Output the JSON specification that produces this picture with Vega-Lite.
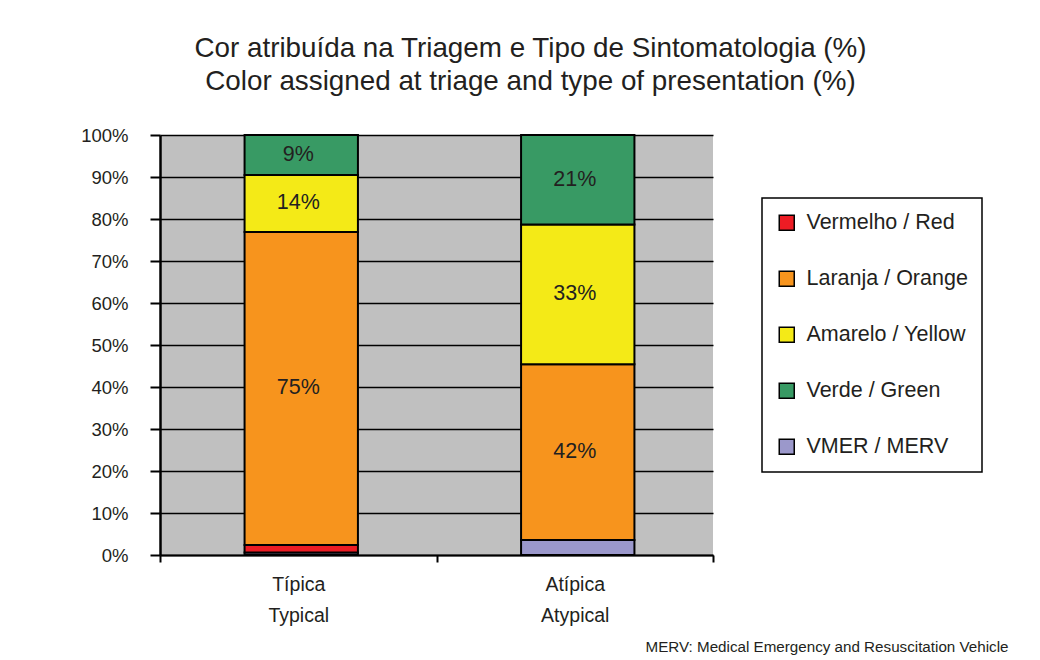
{
  "$schema": "https://vega.github.io/schema/vega-lite/v6.json",
  "width": 553,
  "height": 420,
  "autosize": {"type": "none"},
  "padding": {"left": 160, "top": 135, "right": 327, "bottom": 105},
  "background": "white",
  "config": {
    "font": "Liberation Sans",
    "view": {"fill": "#C0C0C0", "stroke": null}
  },
  "title": {
    "text": ["Cor atribuída na Triagem e Tipo de Sintomatologia (%)", "Color assigned at triage and type of presentation (%)"],
    "fontSize": 27.8,
    "fontWeight": "normal",
    "color": "#231F20",
    "lineHeight": 33,
    "anchor": "middle",
    "dx": 94,
    "offset": 30
  },
  "data": {
    "values": [
      {"cat": "Típica|Typical", "s": "VMER / MERV", "k": 1, "v": 0.6, "label": ""},
      {"cat": "Típica|Typical", "s": "Vermelho / Red", "k": 2, "v": 1.8, "label": ""},
      {"cat": "Típica|Typical", "s": "Laranja / Orange", "k": 3, "v": 74.5, "label": "75%"},
      {"cat": "Típica|Typical", "s": "Amarelo / Yellow", "k": 4, "v": 13.6, "label": "14%"},
      {"cat": "Típica|Typical", "s": "Verde / Green", "k": 5, "v": 9.5, "label": "9%"},
      {"cat": "Atípica|Atypical", "s": "VMER / MERV", "k": 1, "v": 3.6, "label": ""},
      {"cat": "Atípica|Atypical", "s": "Vermelho / Red", "k": 2, "v": 0, "label": ""},
      {"cat": "Atípica|Atypical", "s": "Laranja / Orange", "k": 3, "v": 41.8, "label": "42%"},
      {"cat": "Atípica|Atypical", "s": "Amarelo / Yellow", "k": 4, "v": 33.3, "label": "33%"},
      {"cat": "Atípica|Atypical", "s": "Verde / Green", "k": 5, "v": 21.3, "label": "21%"}
    ]
  },
  "transform": [
    {"stack": "v", "groupby": ["cat"], "sort": [{"field": "k", "order": "ascending"}], "as": ["y0", "y1"]},
    {"calculate": "(datum.y0 + datum.y1) / 2", "as": "mid"}
  ],
  "encoding": {
    "x": {
      "field": "cat",
      "type": "nominal",
      "sort": ["Típica|Typical", "Atípica|Atypical"],
      "scale": {"paddingInner": 0, "paddingOuter": 0},
      "axis": {
        "title": "MERV: Medical Emergency and Resuscitation Vehicle",
        "titleFontSize": 15.2,
        "titleFontWeight": "normal",
        "titleColor": "#231F20",
        "titleAlign": "right",
        "titleX": 848,
        "titleY": 91,
        "titleBaseline": "middle",
        "labelExpr": "split(datum.label, '|')",
        "labelAngle": 0,
        "labelFontSize": 19.5,
        "labelColor": "#231F20",
        "labelLineHeight": 31,
        "labelPadding": 13,
        "labelBaseline": "top",
        "tickBand": "extent",
        "tickSize": 7,
        "tickColor": "black",
        "tickWidth": 2,
        "domainColor": "black",
        "domainWidth": 2,
        "grid": false
      }
    }
  },
  "layer": [
    {
      "mark": {"type": "bar", "stroke": "black", "strokeWidth": 2, "width": {"band": 0.41}, "xOffset": 3},
      "encoding": {
        "y": {
          "field": "y0",
          "type": "quantitative",
          "scale": {"domain": [0, 100], "nice": false},
          "axis": {
            "title": null,
            "values": [0, 10, 20, 30, 40, 50, 60, 70, 80, 90, 100],
            "labelExpr": "datum.value + '%'",
            "labelFontSize": 18.5,
            "labelColor": "#231F20",
            "labelPadding": 22,
            "tickSize": 10,
            "tickColor": "black",
            "tickWidth": 2,
            "domainColor": "black",
            "domainWidth": 2.5,
            "gridColor": "black",
            "gridWidth": 1.5,
            "gridOpacity": 1
          }
        },
        "y2": {"field": "y1"},
        "color": {
          "field": "s",
          "type": "nominal",
          "scale": {
            "domain": ["Vermelho / Red", "Laranja / Orange", "Amarelo / Yellow", "Verde / Green", "VMER / MERV"],
            "range": ["#ED1C24", "#F7941D", "#F4EA17", "#389A64", "#9B98CB"]
          },
          "legend": {
            "title": null,
            "orient": "none",
            "legendX": 602,
            "legendY": 63,
            "symbolType": "square",
            "symbolSize": 225,
            "symbolStrokeColor": "black",
            "symbolStrokeWidth": 1.5,
            "labelFontSize": 21.5,
            "labelLimit": 400,
            "labelColor": "#231F20",
            "labelOffset": 9,
            "rowPadding": 33,
            "padding": 14,
            "fillColor": "white",
            "strokeColor": "black",
            "encode": {"legend": {"update": {"strokeWidth": {"value": 1.5}}}}
          }
        }
      }
    },
    {
      "mark": {"type": "text", "fontSize": 21.5, "color": "#231F20", "baseline": "middle"},
      "encoding": {
        "y": {"field": "mid", "type": "quantitative"},
        "text": {"field": "label"}
      }
    }
  ]
}
